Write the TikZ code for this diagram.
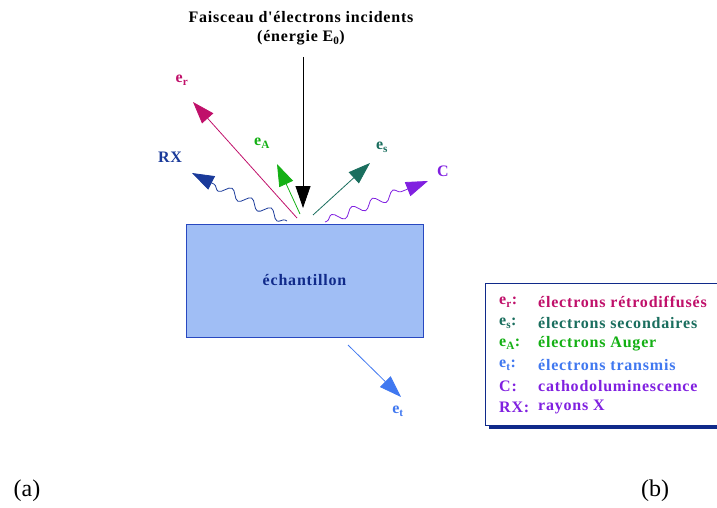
\documentclass[tikz,border=0pt]{standalone}
\usepackage{fontspec}
\setmainfont{Liberation Serif}
\newfontfamily\lsfont[LetterSpace=5]{Liberation Serif}
\usetikzlibrary{arrows.meta,decorations.pathmorphing,calc}
\definecolor{cr}{HTML}{C0106A}
\definecolor{cs}{HTML}{1A6E5E}
\definecolor{ca}{HTML}{14B014}
\definecolor{ct}{HTML}{4078F0}
\definecolor{cc}{HTML}{8020E0}
\definecolor{cx}{HTML}{1A3A9A}
\definecolor{boxfill}{HTML}{A0BEF5}
\definecolor{boxdraw}{HTML}{2848C0}
\definecolor{dk}{HTML}{102A8A}
\tikzset{
  lbl/.style={font=\lsfont\bfseries\fontsize{16}{18}\selectfont, inner sep=0pt},
  ray/.style={line width=0.8pt, -{Triangle[length=22pt,width=15pt]}},
  wave/.style={line width=0.8pt, decorate, decoration={snake, segment length=22pt, amplitude=4.5pt, pre length=2pt, post length=2pt}},
  leg/.style={font=\lsfont\bfseries\fontsize{16}{18}\selectfont, inner sep=0pt, anchor=west},
}
\begin{document}
\begin{tikzpicture}[x=1pt,y=-1pt]
\useasboundingbox (0,0) rectangle (717,508);
% title
\node[lbl] (title) at (301,17) {Faisceau d'électrons incidents};
\node[lbl] (energ) at (301,38) {(énergie E\textsubscript{0})};
% sample
\node[draw=boxdraw, fill=boxfill, line width=1pt, minimum width=237pt, minimum height=113pt, inner sep=0pt] (ech) at (304.5,280.5) {};
\node[lbl, text=dk] at (ech.center) {échantillon};
% incident beam
\coordinate (top) at (303,57);
\coordinate (hit) at (303,208);
\draw[ray, black] (top) -- (hit);
% e_r
\coordinate (sr) at (297,218);
\coordinate (er) at (193,102);
\draw[ray, cr] (sr) -- (er);
\node[lbl, text=cr] (ler) at (182,80) {e\textsubscript{r}};
% e_A
\coordinate (sa) at (300,214);
\coordinate (ea) at (277,164);
\draw[ray, ca] (sa) -- (ea);
\node[lbl, text=ca] (lea) at (262,143) {e\textsubscript{A}};
% e_s
\coordinate (ss) at (313,215);
\coordinate (es) at (370,163);
\draw[ray, cs] (ss) -- (es);
\node[lbl, text=cs] (les) at (382,147) {e\textsubscript{s}};
% RX wave
\coordinate (sx) at (287,221);
\coordinate (ex) at (192,173);
\coordinate (mx) at ($(ex)!22pt!(sx)$);
\draw[wave, cx] (sx) -- (mx);
\draw[ray, cx] (mx) -- (ex);
\node[lbl, text=cx] (lrx) at (170,157) {RX};
% C wave
\coordinate (sc) at (325,222);
\coordinate (ec) at (428,181);
\coordinate (mc) at ($(ec)!22pt!(sc)$);
\draw[wave, cc] (sc) -- (mc);
\draw[ray, cc] (mc) -- (ec);
\node[lbl, text=cc] (lc) at (443,171) {C};
% e_t
\coordinate (st) at (348,345);
\coordinate (et) at (401,397);
\draw[ray, ct] (st) -- (et);
\node[lbl, text=ct] (let) at (398,411) {e\textsubscript{t}};
% legend
\fill[dk] (489,287) rectangle (720,429);
\node[draw=dk, fill=white, line width=0.8pt, anchor=north west, minimum width=234pt, minimum height=142pt, inner sep=0pt] (legend) at (485,283) {};
\node[leg, text=cr] (l1) at (499,302) {e\textsubscript{r}:};
\node[leg, text=cr] (d1) at (538,302) {électrons rétrodiffusés};
\node[leg, text=cs] (l2) at (499,323) {e\textsubscript{s}:};
\node[leg, text=cs] (d2) at (538,323) {électrons secondaires};
\node[leg, text=ca] (l3) at (499,344) {e\textsubscript{A}:};
\node[leg, text=ca] (d3) at (538,344) {électrons Auger};
\node[leg, text=ct] (l4) at (499,365) {e\textsubscript{t}:};
\node[leg, text=ct] (d4) at (538,365) {électrons transmis};
\node[leg, text=cc] (l5) at (499,386) {C:};
\node[leg, text=cc] (d5) at (538,386) {cathodoluminescence};
\node[leg, text=cc] (l6) at (499,407) {RX:};
\node[leg, text=cc] (d6) at (538,407) {rayons X};
% captions
\node[font=\fontsize{24}{28}\selectfont, inner sep=0pt] (ca) at (27,491) {(a)};
\node[font=\fontsize{24}{28}\selectfont, inner sep=0pt] (cb) at (655,491) {(b)};
\end{tikzpicture}
\end{document}
